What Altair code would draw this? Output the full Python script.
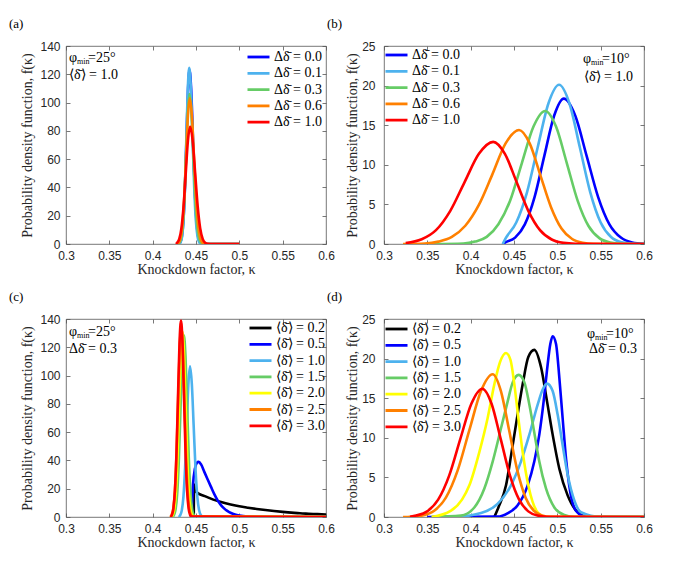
import altair as alt
import pandas as pd

# ---------------- data ----------------
XTICKS = [0.3, 0.35, 0.4, 0.45, 0.5, 0.55, 0.6]

# panel (a): phi_min = 25 deg, <delta> = 1.0
A_LABELS = ["Δδ̄ = 0.0", "Δδ̄ = 0.1", "Δδ̄ = 0.3", "Δδ̄ = 0.6", "Δδ̄ = 1.0"]
A_COLORS = ["#0000FF", "#4DB2EE", "#66CC66", "#FF8000", "#FF0000"]
A_K = [
    [0.4305, 0.432, 0.43375, 0.4355, 0.43725, 0.439, 0.44075, 0.4425, 0.4445, 0.4465, 0.4485, 0.4505, 0.4525, 0.4545, 0.4565, 0.46, 0.5],
    [0.4305, 0.4323, 0.434, 0.4356, 0.43725, 0.4389, 0.44055, 0.4422, 0.4441, 0.446, 0.4479, 0.4498, 0.4517, 0.4536, 0.4555, 0.46, 0.5],
    [0.4295, 0.4311, 0.433, 0.4349, 0.4368, 0.4387, 0.4406, 0.4425, 0.44465, 0.4468, 0.44895, 0.4511, 0.45325, 0.4554, 0.45755, 0.462, 0.5],
    [0.4285, 0.4302, 0.4323, 0.4344, 0.4365, 0.4386, 0.4407, 0.4428, 0.4452, 0.4476, 0.45, 0.4524, 0.4548, 0.4572, 0.4596, 0.465, 0.5],
    [0.427, 0.4282, 0.4307, 0.4332, 0.4357, 0.4382, 0.4407, 0.4432, 0.4461, 0.449, 0.4519, 0.4548, 0.4577, 0.4606, 0.4635, 0.47, 0.5],
]
A_F = [
    [0, 1.4, 5.4, 16.6, 39.9, 74.6, 108.5, 123, 108.5, 74.6, 39.9, 16.6, 5.4, 1.4, 0.3, 0, 0],
    [0, 1.4, 5.5, 16.8, 40.4, 75.5, 109.9, 124.5, 109.9, 75.5, 40.4, 16.8, 5.5, 1.4, 0.3, 0, 0],
    [0, 1.2, 4.7, 14.3, 34.4, 64.3, 93.5, 106, 93.5, 64.3, 34.4, 14.3, 4.7, 1.2, 0.2, 0, 0],
    [0, 1.1, 4.5, 13.9, 33.4, 62.5, 90.9, 103, 90.9, 62.5, 33.4, 13.9, 4.5, 1.1, 0.2, 0, 0],
    [0, 0.9, 3.6, 11.2, 26.9, 50.3, 73.2, 83, 73.2, 50.3, 26.9, 11.2, 3.6, 0.9, 0.2, 0, 0],
]

# panel (b): phi_min = 10 deg, <delta> = 1.0
B_LABELS = A_LABELS
B_COLORS = A_COLORS
B_K = [
    [0.437, 0.44, 0.4513, 0.4625, 0.4738, 0.485, 0.4963, 0.5075, 0.5207, 0.5338, 0.547, 0.5601, 0.5733, 0.5864, 0.6],
    [0.437, 0.4403, 0.4526, 0.465, 0.4773, 0.4897, 0.502, 0.514, 0.526, 0.538, 0.55, 0.562, 0.574, 0.586, 0.6],
    [0.357, 0.3915, 0.405, 0.4185, 0.432, 0.4455, 0.459, 0.4725, 0.486, 0.4985, 0.511, 0.5235, 0.536, 0.5485, 0.561, 0.5735, 0.6],
    [0.322, 0.3473, 0.3628, 0.3783, 0.3938, 0.4093, 0.4248, 0.4403, 0.4558, 0.4681, 0.4803, 0.4926, 0.5048, 0.5171, 0.5293, 0.5416, 0.6],
    [0.325, 0.3435, 0.36, 0.3765, 0.393, 0.4095, 0.426, 0.4395, 0.453, 0.4665, 0.48, 0.4935, 0.507, 0.5205, 0.6],
]
B_F = [
    [0, 0.2, 0.81, 2.48, 5.96, 11.13, 16.19, 18.35, 16.19, 11.13, 5.96, 2.48, 0.81, 0.2, 0.03],
    [0, 0.7, 2.72, 6.53, 12.19, 17.74, 20.1, 17.74, 12.19, 6.53, 2.72, 0.88, 0.22, 0.04, 0],
    [0, 0.06, 0.3, 0.9, 2.5, 5.45, 10.19, 14.83, 16.8, 14.83, 10.19, 5.45, 2.27, 0.74, 0.19, 0.04, 0],
    [0, 0.06, 0.3, 0.9, 2.3, 4.9, 8.73, 12.71, 14.4, 12.71, 8.73, 4.68, 1.95, 0.63, 0.16, 0.03, 0],
    [0.12, 0.6, 1.75, 4.19, 7.82, 11.38, 12.9, 11.38, 7.82, 4.19, 1.75, 0.57, 0.14, 0.03, 0],
]

# panel (c): phi_min = 25 deg, delta-spread = 0.3
C_LABELS = ["⟨δ̄⟩ = 0.2", "⟨δ̄⟩ = 0.5", "⟨δ̄⟩ = 1.0", "⟨δ̄⟩ = 1.5", "⟨δ̄⟩ = 2.0", "⟨δ̄⟩ = 2.5", "⟨δ̄⟩ = 3.0"]
C_COLORS = ["#000000", "#0000FF", "#4DB2EE", "#66CC66", "#FFFF00", "#FF8000", "#FF0000"]
C_K = [
    [0.4474, 0.4478, 0.4484, 0.451, 0.46, 0.47, 0.48, 0.49, 0.50, 0.51, 0.52, 0.53, 0.54, 0.55, 0.56, 0.57, 0.58, 0.59, 0.60],
    [0.4442, 0.445, 0.4465, 0.4488, 0.451, 0.4531, 0.456, 0.4596, 0.4635, 0.4673, 0.4711, 0.475, 0.4788, 0.4827, 0.4865, 0.4904, 0.495, 0.5, 0.51, 0.52, 0.6],
    [0.4299, 0.4317, 0.4336, 0.4355, 0.4374, 0.4393, 0.4412, 0.4431, 0.4452, 0.4473, 0.4494, 0.4515, 0.4536, 0.4557, 0.4578, 0.6],
    [0.4228, 0.4246, 0.4265, 0.4284, 0.4303, 0.4322, 0.4341, 0.436, 0.4379, 0.4398, 0.4417, 0.4436, 0.4455, 0.4474, 0.4493, 0.6],
    [0.4213, 0.4232, 0.42505, 0.4269, 0.42875, 0.4306, 0.43245, 0.4343, 0.43615, 0.438, 0.43985, 0.4417, 0.44355, 0.4454, 0.4473, 0.6],
    [0.42, 0.4219, 0.42375, 0.4256, 0.42745, 0.4293, 0.43115, 0.433, 0.43485, 0.4367, 0.43855, 0.4404, 0.44225, 0.4441, 0.446, 0.6],
    [0.4205, 0.4222, 0.42395, 0.4257, 0.42745, 0.4292, 0.43095, 0.4327, 0.43445, 0.4362, 0.43795, 0.4397, 0.44145, 0.4432, 0.44495, 0.6],
]
C_F = [
    [0, 23, 19, 17.3, 14.8, 12.3, 10.4, 8.9, 7.6, 6.6, 5.7, 4.9, 4.2, 3.6, 3.1, 2.6, 2.3, 2.0, 1.7],
    [0, 3.5, 22.5, 34.3, 38.3, 39, 37, 31.9, 26.5, 21.3, 16.2, 11.8, 8.4, 5.9, 4.1, 2.8, 1.8, 1.1, 0.35, 0.1, 0],
    [0, 1.2, 4.7, 14.4, 34.6, 64.6, 94.0, 106.5, 94.0, 64.6, 34.6, 14.4, 4.7, 1.2, 0.24, 0],
    [0, 1.4, 5.6, 17.4, 41.7, 77.9, 113.4, 128.5, 113.4, 77.9, 41.7, 17.4, 5.6, 1.4, 0.3, 0],
    [0, 1.45, 5.75, 17.7, 42.5, 79.5, 115.6, 131, 115.6, 79.5, 42.5, 17.7, 5.75, 1.45, 0.3, 0],
    [0, 1.5, 5.9, 18.1, 43.5, 81.3, 118.3, 134, 118.3, 81.3, 43.5, 18.1, 5.9, 1.5, 0.3, 0],
    [0, 1.5, 6.1, 18.8, 45.1, 84.2, 122.6, 138.9, 122.6, 84.2, 45.1, 18.8, 6.1, 1.5, 0.3, 0],
]

# panel (d): phi_min = 10 deg, delta-spread = 0.3
D_LABELS = C_LABELS
D_COLORS = C_COLORS
D_K = [
    [0.4273, 0.432, 0.4408, 0.4473, 0.4535, 0.46, 0.4665, 0.4734, 0.4812, 0.4881, 0.4946, 0.5023, 0.512, 0.5235, 0.535, 0.6],
    [0.35, 0.431, 0.443, 0.454, 0.4658, 0.4734, 0.4792, 0.4842, 0.488, 0.4919, 0.4946, 0.4985, 0.5023, 0.5061, 0.51, 0.515, 0.5215, 0.5311, 0.545, 0.6],
    [0.36, 0.385, 0.412, 0.431, 0.4465, 0.458, 0.4677, 0.4773, 0.4831, 0.4881, 0.4946, 0.5004, 0.5061, 0.512, 0.5196, 0.5273, 0.55, 0.6],
    [0.355, 0.3888, 0.4042, 0.4158, 0.4254, 0.435, 0.4427, 0.4485, 0.4554, 0.462, 0.4677, 0.4735, 0.4792, 0.4869, 0.4966, 0.5081, 0.52, 0.6],
    [0.355, 0.3773, 0.39, 0.3985, 0.41, 0.4196, 0.4273, 0.434, 0.4408, 0.446, 0.4504, 0.455, 0.46, 0.4665, 0.4773, 0.487, 0.6],
    [0.322, 0.331, 0.3444, 0.3579, 0.3714, 0.3849, 0.3984, 0.4119, 0.4254, 0.4349, 0.4444, 0.4539, 0.4634, 0.4729, 0.4824, 0.4919, 0.6],
    [0.33, 0.337, 0.3498, 0.3625, 0.3753, 0.388, 0.4008, 0.4135, 0.4241, 0.4347, 0.4453, 0.4559, 0.4665, 0.4771, 0.4877, 0.6],
]
D_F = [
    [0, 1.2, 4.0, 8.25, 12.5, 16.75, 20.2, 21.1, 18.9, 14.6, 10.4, 6.1, 2.7, 0.6, 0, 0],
    [0, 0.05, 0.5, 1.45, 4.0, 7.0, 10.4, 14.6, 18.45, 21.85, 22.83, 21.85, 17.6, 12.5, 7.4, 3.1, 0.8, 0.1, 0, 0],
    [0, 0.05, 0.5, 1.66, 4.0, 7.0, 10.4, 14.2, 16.1, 16.84, 15.9, 12.9, 9.1, 5.3, 2.1, 0.6, 0, 0],
    [0, 0.17, 1.2, 3.6, 7.0, 11.2, 14.6, 17.0, 17.94, 17.0, 14.2, 10.6, 7.0, 3.6, 1.2, 0.25, 0, 0],
    [0, 0.8, 2.2, 4.0, 8.2, 12.5, 16.75, 19.6, 20.7, 19.8, 16.75, 12.5, 8.2, 4.0, 0.6, 0, 0],
    [0, 0.04, 0.2, 0.79, 2.44, 5.85, 10.94, 15.9, 18.03, 15.9, 10.94, 5.85, 2.44, 0.79, 0.2, 0.04, 0],
    [0.03, 0.18, 0.71, 2.19, 5.26, 9.83, 14.3, 16.2, 14.3, 9.83, 5.26, 2.19, 0.71, 0.18, 0.04, 0],
]

# ---------------- styling ----------------
W, H = 260, 198
SERIF = "Liberation Serif"
SANS = "Liberation Sans"
TXT = "#262626"
TICK = "#555555"


def frame(labels, k_lists, f_lists):
    rows = []
    for i, (lab, ks, fs) in enumerate(zip(labels, k_lists, f_lists)):
        for j, (k, f) in enumerate(zip(ks, fs)):
            rows.append({"k": k, "f": f, "s": lab, "i": i, "j": j})
    return pd.DataFrame(rows)


def text_layer(txt, x, y, size=14, align="left", dy=0):
    return alt.Chart(pd.DataFrame({"t": [txt]})).mark_text(
        font=SERIF, fontSize=size, align=align, baseline="middle",
        color="#000000", dy=dy
    ).encode(text="t:N", x=alt.value(x), y=alt.value(y))


def panel(labels, colors, k_lists, f_lists, ymax, ystep, leg_x, leg_y,
          phi, line2, ann_x, ann_y, right_ann, tag, ylab_pad, ytitle_pad):
    df = frame(labels, k_lists, f_lists)
    xs = alt.Scale(domain=[0.3, 0.6], nice=False, zero=False)
    ys = alt.Scale(domain=[0, ymax], nice=False)
    yvals = list(range(0, ymax + 1, ystep))

    xaxis = alt.Axis(values=XTICKS, format="~g", title="Knockdown factor, κ",
                     orient="bottom", offset=-4, tickSize=4, labelPadding=6,
                     labelFlush=False, titlePadding=1)
    yaxis = alt.Axis(values=yvals, format="d",
                     title="Probability density function, f(κ)",
                     orient="left", offset=-4, tickSize=4, labelFlush=False,
                     labelPadding=ylab_pad, titlePadding=ytitle_pad)
    lines = alt.Chart(df).mark_line(
        strokeWidth=2.6, interpolate="monotone", clip=True
    ).encode(
        x=alt.X("k:Q", scale=xs, axis=xaxis),
        y=alt.Y("f:Q", scale=ys, axis=yaxis),
        color=alt.Color("s:N", sort=labels,
                        scale=alt.Scale(domain=labels, range=colors),
                        legend=alt.Legend(
                            title=None, orient="none", legendX=leg_x, legendY=leg_y,
                            symbolType="stroke", symbolSize=484, symbolStrokeWidth=2.8,
                            labelFont=SERIF, labelFontSize=14, labelColor="#000000",
                            labelOffset=3, clipHeight=14, rowPadding=2.3, padding=0)),
        detail="i:N",
        order="j:Q",
    )
    top_right = alt.Chart(df).mark_point(opacity=0).encode(
        x=alt.X("k:Q", scale=xs, axis=alt.Axis(values=XTICKS, orient="top", offset=-4,
                                               tickSize=4, labels=False, title=None)),
        y=alt.Y("f:Q", scale=ys, axis=alt.Axis(values=yvals, orient="right", offset=-4,
                                               tickSize=4, labels=False, title=None)),
    )
    layers = [lines, top_right]
    # annotation: phi_min = ...
    px, y1, y2 = ann_x, ann_y[0], ann_y[1]
    layers.append(text_layer("φ", px, y1))
    layers.append(text_layer("min", px + 8, y1 + 4, size=8))
    layers.append(text_layer("=" + phi, px + 19, y1))
    if right_ann is None:
        layers.append(text_layer(line2, px, y2))
    else:
        layers.append(text_layer(line2, right_ann, y2, align="right"))
    layers.append(text_layer(tag, -57, -22, size=13))
    return alt.layer(*layers).resolve_axis(x="independent", y="independent").properties(
        width=W, height=H)


pa = panel(A_LABELS, A_COLORS, A_K, A_F, 140, 20, 180, 4,
           "25°", "⟨δ̄⟩ = 1.0", 3, (12, 29), None, "(a)", 6, 5)
pb = panel(B_LABELS, B_COLORS, B_K, B_F, 25, 5, 0, 2,
           "10°", "⟨δ̄⟩ = 1.0", 199, (13, 31), 249, "(b)", 9, 2)
pc = panel(C_LABELS, C_COLORS, C_K, C_F, 140, 20, 182, 2,
           "25°", "Δδ̄ = 0.3", 3, (13, 30), None, "(c)", 6, 5)
pd_ = panel(D_LABELS, D_COLORS, D_K, D_F, 25, 5, 0, 3,
            "10°", "Δδ̄ = 0.3", 203, (15, 30), 253, "(d)", 9, 2)

chart = alt.concat(pa, pb, pc, pd_, columns=2, spacing={"row": 75, "column": 58},
                   bounds="flush").resolve_scale(
    x="independent", y="independent", color="independent"
).properties(
    padding={"left": 0, "top": 9, "right": 0, "bottom": 0},
    background="white",
).configure_view(
    stroke=TICK, strokeWidth=0.8
).configure_axis(
    grid=False, domain=False, tickColor=TICK, tickWidth=0.8,
    labelFont=SANS, labelFontSize=12, labelColor=TXT,
    titleFont=SERIF, titleFontSize=14, titleFontWeight="normal", titleColor=TXT
)

chart.save("out.html", embed_options={"renderer": "svg", "actions": False})
